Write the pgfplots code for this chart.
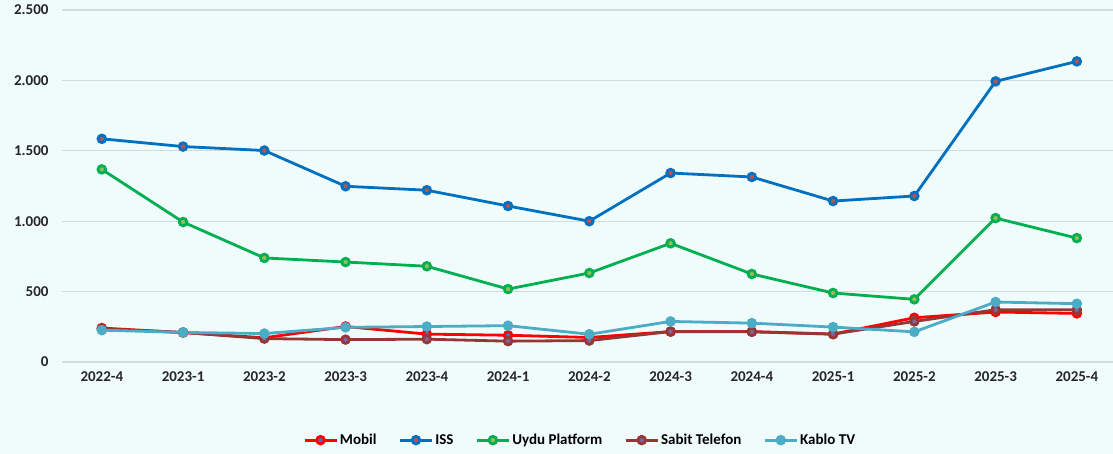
\documentclass[border=0pt]{standalone}
\usepackage{pgfplots}
\pgfplotsset{compat=1.18}
\usepackage{fontspec}
\setmainfont{Carlito}
\definecolor{bgc}{HTML}{F0FBFC}
\definecolor{gridc}{HTML}{D3DCDC}
\definecolor{cMob}{HTML}{FF0000}
\definecolor{cMobF}{HTML}{4F6FB8}
\definecolor{cISS}{HTML}{0070C0}
\definecolor{cISSF}{HTML}{C0504D}
\definecolor{cUy}{HTML}{00B050}
\definecolor{cUyF}{HTML}{9BBB59}
\definecolor{cSab}{HTML}{953735}
\definecolor{cSabF}{HTML}{8064A2}
\definecolor{cKab}{HTML}{4BACC6}
\begin{document}
\begin{tikzpicture}
\fill[bgc] (0,0) rectangle (1113pt,454pt);
\useasboundingbox (0,0) rectangle (1113pt,454pt);
\begin{axis}[
  at={(62pt,92pt)}, anchor=south west,
  scale only axis, width=1051pt, height=352pt,
  xmin=-0.49, xmax=12.445, ymin=0, ymax=2500,
  xtick={0,...,12},
  xticklabels={2022-4,2023-1,2023-2,2023-3,2023-4,2024-1,2024-2,2024-3,2024-4,2025-1,2025-2,2025-3,2025-4},
  ytick={0,500,1000,1500,2000,2500},
  /pgf/number format/.cd, 1000 sep={.}, assume math mode=true, /pgfplots/.cd,
  ymajorgrids, grid style={gridc, line width=1.3pt},
  axis line style={draw=none}, tick style={draw=none},
  ticklabel style={font=\bfseries\fontsize{15}{18}\selectfont, text=black!85},
  yticklabel style={xshift=-10pt},
  xticklabel style={yshift=-6pt},
  clip=false,
  legend columns=5,
  legend style={at={(0.493,-0.222)}, anchor=center, draw=none, fill=none,
    font=\bfseries\fontsize{15}{18}\selectfont, column sep=0pt,
    /tikz/every even column/.append style={column sep=20pt},
    /tikz/every node/.append style={inner xsep=2pt}},
  legend image code/.code={\draw[mark repeat=2,mark phase=2] plot coordinates {(0pt,0pt)(16pt,0pt)(32pt,0pt)};},
  every axis plot/.append style={line width=2.8pt, mark=*, mark size=3.8pt, mark options={line width=0.7pt}},
]
\addplot[cMob, mark options={fill=cMobF, draw=cMob}] coordinates {(0,241)(1,209)(2,172)(3,252)(4,198)(5,190)(6,174)(7,216)(8,216)(9,198)(10,314)(11,355)(12,345)};
\addlegendentry{Mobil}
\addplot[cISS, mark options={fill=cISSF, draw=cISS}] coordinates {(0,1585)(1,1530)(2,1502)(3,1248)(4,1220)(5,1108)(6,1000)(7,1342)(8,1314)(9,1143)(10,1179)(11,1993)(12,2135)};
\addlegendentry{ISS}
\addplot[cUy, mark options={fill=cUyF, draw=cUy}] coordinates {(0,1368)(1,994)(2,739)(3,710)(4,680)(5,518)(6,632)(7,843)(8,625)(9,490)(10,445)(11,1022)(12,880)};
\addlegendentry{Uydu Platform}
\addplot[cSab, mark options={fill=cSabF, draw=cSab}] coordinates {(0,235)(1,210)(2,166)(3,159)(4,162)(5,148)(6,152)(7,216)(8,214)(9,198)(10,288)(11,371)(12,371)};
\addlegendentry{Sabit Telefon}
\addplot[cKab, mark options={fill=cKab, draw=cKab}] coordinates {(0,226)(1,210)(2,202)(3,246)(4,252)(5,258)(6,197)(7,288)(8,276)(9,248)(10,214)(11,426)(12,414)};
\addlegendentry{Kablo TV}
\end{axis}
\end{tikzpicture}
\end{document}
